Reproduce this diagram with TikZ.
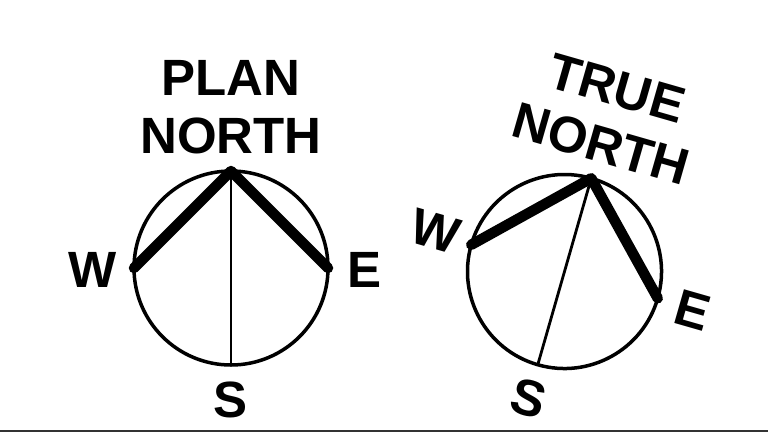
\documentclass[tikz,border=0pt]{standalone}
\usepackage{fontspec}
\setmainfont{Liberation Sans}
\begin{document}
\begin{tikzpicture}[x=1pt, y=-1pt, font=\bfseries\fontsize{51}{58}\selectfont,
    ring/.style={line width=3.5pt},
    wing/.style={line width=10.5pt, line cap=round, line join=round},
    axis/.style={line width=2.8pt},
    lbl/.style={anchor=base, inner sep=0pt}]
  \useasboundingbox (0,0) rectangle (768,432);
  \draw[black!80, line width=1.5pt] (0,431) -- (768,431);
  % plan north
  \begin{scope}[shift={(231,268)}]
    \draw[ring] (0,0) circle (97pt);
    \coordinate (pn) at (0,-97);
    \coordinate (pw) at (-97,0);
    \coordinate (pe) at (97,0);
    \coordinate (ps) at (0,97);
    \draw[axis] (pn) -- (ps);
    \draw[wing] (pw) -- (pn) -- (pe);
    \node[lbl] (plan) at (0,-173) {PLAN};
    \node[lbl] (pnorth) at (0,-115) {NORTH};
    \node[lbl] (pwlbl) at (-138.5,19) {W};
    \node[lbl] (pelbl) at (134,19) {E};
    \node[lbl] (pslbl) at (0,149) {S};
  \end{scope}
  % true north
  \begin{scope}[shift={(564.5,271.5)}, rotate=-16, transform shape]
    \draw[ring] (0,0) circle (97pt);
    \coordinate (tn) at (0,-97);
    \coordinate (tw) at (-97,0);
    \coordinate (te) at (97,0);
    \coordinate (ts) at (0,97);
    \draw[axis] (tn) -- (ts);
    \draw[wing] (tw) -- (tn) -- (te);
    \node[lbl] (true) at (0,-173) {TRUE};
    \node[lbl] (tnorth) at (0,-115) {NORTH};
    \node[lbl] (twlbl) at (-135,14) {W};
    \node[lbl] (telbl) at (134,19) {E};
    \node[lbl] (tslbl) at (0,149) {S};
  \end{scope}
\end{tikzpicture}
\end{document}
